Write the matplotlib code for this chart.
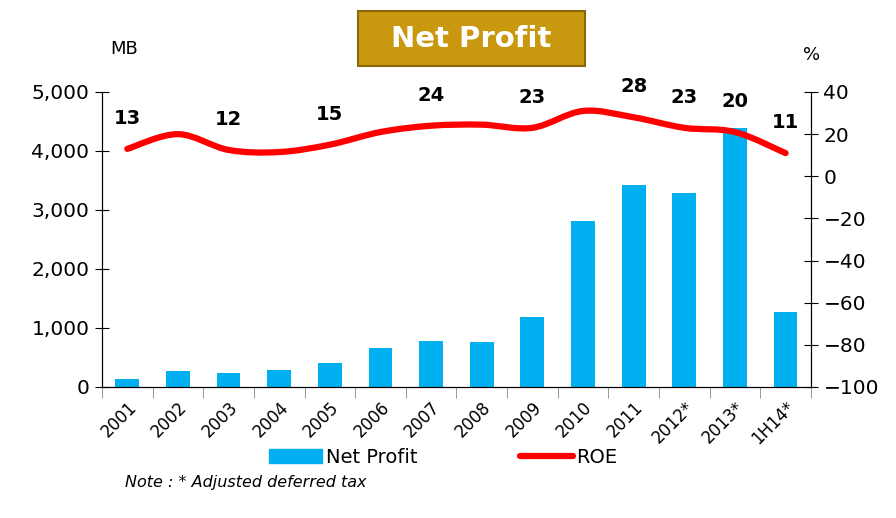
import numpy as np
import matplotlib.pyplot as plt
from matplotlib.path import Path
from matplotlib.patches import PathPatch, FancyBboxPatch
from matplotlib.lines import Line2D
from matplotlib.patches import Patch

years = ["2001", "2002", "2003", "2004", "2005", "2006", "2007", "2008",
         "2009", "2010", "2011", "2012*", "2013*", "1H14*"]
net_profit = [135, 270, 240, 290, 400, 660, 780, 760, 1190, 2810, 3420, 3290, 4390, 1270]
roe = [13, 20, 12.5, 11.5, 15, 21, 24, 24.5, 23, 31, 28, 23, 21, 11]
# data labels shown on the chart (index -> text)
roe_labels = {0: "13", 2: "12", 4: "15", 6: "24", 8: "23", 10: "28", 11: "23", 12: "20", 13: "11"}

plt.rcParams['font.family'] = ['DejaVu Sans']

fig = plt.figure(figsize=(8.96, 5.18), dpi=100)
ax = fig.add_axes([0.1138, 0.2529, 0.7912, 0.5695])
ax2 = ax.twinx()

x = np.arange(len(years))
ax.bar(x, net_profit, width=0.47, color='#00B0F0', zorder=2)
ax.set_xlim(-0.5, len(years) - 0.5)
ax.set_ylim(0, 5000)
ax.set_yticks(np.arange(0, 5001, 1000))
ax.set_yticklabels([f"{v:,}" for v in range(0, 5001, 1000)], fontsize=14.5)
ax.set_xticks(x)
ax.set_xticklabels(years, rotation=45, ha='right', rotation_mode='anchor', fontsize=12)
ax.tick_params(axis='x', length=0, pad=8)
ax.set_xticks(np.arange(-0.5, len(years), 1), minor=True)
ax.tick_params(axis='x', which='minor', length=8, direction='out', color='#888888')
ax.tick_params(axis='y', direction='inout', length=10, pad=4)
ax.spines['top'].set_visible(False)

# smooth ROE line (Catmull-Rom -> bezier through data points)
pts = np.column_stack([x, roe]).astype(float)
verts = [tuple(pts[0])]
codes = [Path.MOVETO]
for i in range(len(pts) - 1):
    p0 = pts[i - 1] if i > 0 else pts[i]
    p1 = pts[i]
    p2 = pts[i + 1]
    p3 = pts[i + 2] if i + 2 < len(pts) else pts[i + 1]
    c1 = p1 + (p2 - p0) / 6
    c2 = p2 - (p3 - p1) / 6
    verts += [tuple(c1), tuple(c2), tuple(p2)]
    codes += [Path.CURVE4] * 3
ax2.add_patch(PathPatch(Path(verts, codes), facecolor='none', edgecolor='#FF0000',
                        lw=4.5, capstyle='round', zorder=3))
ax2.set_ylim(-100, 40)
ax2.set_yticks(np.arange(-100, 41, 20))
ax2.tick_params(axis='y', direction='inout', length=10, labelsize=14.5, pad=4)
ax2.spines['top'].set_visible(False)

for i, t in roe_labels.items():
    ax2.annotate(t, (x[i], roe[i]), xytext=(0, 15), textcoords='offset points',
                 ha='center', va='bottom', fontsize=14, fontweight='bold')

fig.text(0.138, 0.905, "MB", fontsize=13, ha='center', va='center')
fig.text(0.906, 0.893, "%", fontsize=13, ha='center', va='center')

# title box
box = FancyBboxPatch((0.399, 0.872), 0.254, 0.107, boxstyle='square,pad=0',
                     transform=fig.transFigure, facecolor='#C9980E',
                     edgecolor='#8A6A08', lw=1.5)
fig.patches.append(box)
fig.text(0.526, 0.925, "Net Profit", fontsize=21, fontweight='bold', color='white',
         ha='center', va='center')

handles = [Patch(color='#00B0F0'), Line2D([0], [0], color='#FF0000', lw=4.5, solid_capstyle='round')]
fig.legend(handles, ["Net Profit", "ROE"], loc='center', bbox_to_anchor=(0.495, 0.117),
           ncol=2, frameon=False, fontsize=14, columnspacing=5.3, handlelength=2.7,
           handletextpad=0.2)
fig.text(0.14, 0.069, "Note : * Adjusted deferred tax", fontsize=11.5, style='italic',
         ha='left', va='center')

fig.savefig("out.png", dpi=100)
